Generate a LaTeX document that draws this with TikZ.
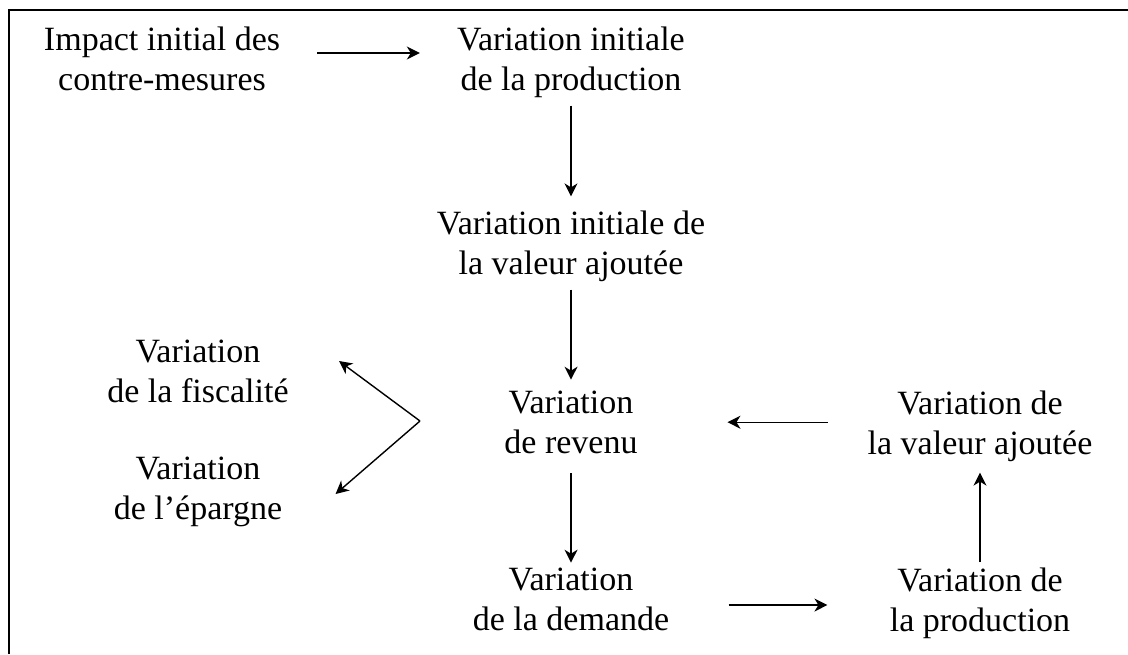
\documentclass[tikz,border=0pt]{standalone}
\usepackage{fontspec}
\setmainfont{Liberation Serif}
\usetikzlibrary{arrows.meta,calc}

\begin{document}
\begin{tikzpicture}[x=0.5pt,y=-0.5pt, every node/.style={font=\fontsize{17}{20}\selectfont}, lbl/.style={align=center,inner sep=0pt}, arr/.style={-{Stealth[length=6.5pt,width=6.5pt,inset=2pt]},line width=0.7pt}]
\useasboundingbox (0,0) rectangle (1128,654);
\draw[line width=1.3pt] (9,654) -- (9,10) -- (1128,10);
\node[lbl] (imp) at (162,58.5) {Impact initial des\\contre-mesures};
\node[lbl] (vip) at (571,62.2) {Variation initiale\\de la production};
\node[lbl] (via) at (571,246.2) {Variation initiale de\\la valeur ajoutée};
\node[lbl] (rev) at (571,422.5) {Variation\\de revenu};
\node[lbl] (fis) at (198,371.5) {Variation\\de la fiscalité};
\node[lbl] (epa) at (198,492.2) {Variation\\de l'épargne};
\node[lbl] (vaj) at (980,426.2) {Variation de\\la valeur ajoutée};
\node[lbl] (dem) at (571,599.5) {Variation\\de la demande};
\node[lbl] (pro) at (980,603.2) {Variation de\\la production};
\coordinate (vtx) at (420,421);
% flow
\draw[arr,shorten <=18.5pt,shorten >=18.5pt] ([yshift=2.75pt]imp.east) -- ([yshift=2.75pt]imp.east -| vip.west);
\draw[arr,shorten <=3.8pt,shorten >=7pt] (vip.south) -- (via.north);
\draw[arr,shorten <=3.8pt,shorten >=5.5pt] (via.south) -- (rev.north);
\draw[arr] (vtx) -- ([shift={(25pt,5.25pt)}]fis.east);
\draw[arr] (vtx) -- ([shift={(26.5pt,-0.9pt)}]epa.east);
\draw[arr,shorten <=19.75pt,shorten >=44.75pt] ([yshift=2pt]vaj.west) -- ([yshift=2pt]vaj.west -| rev.east);
\draw[arr,shorten <=9.5pt,shorten >=2.5pt] (rev.south) -- (dem.north);
\draw[arr,shorten <=29.5pt,shorten >=31pt] ([yshift=-2.75pt]dem.east) -- ([yshift=-2.75pt]dem.east -| pro.west);
\draw[arr,shorten <=2.5pt,shorten >=5.3pt] (pro.north) -- (vaj.south);
\end{tikzpicture}
\end{document}
